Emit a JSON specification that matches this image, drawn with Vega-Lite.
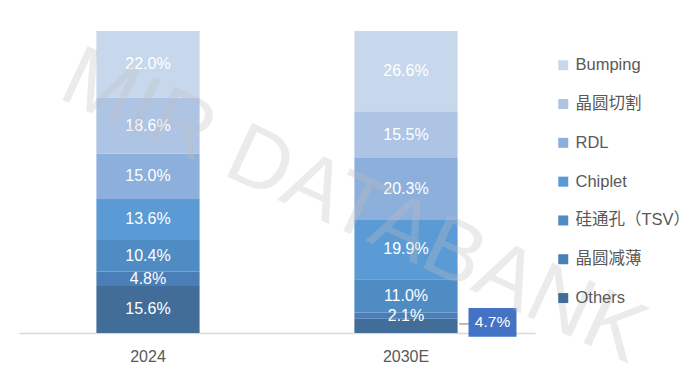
{
  "$schema": "https://vega.github.io/schema/vega-lite/v6.json",
  "width": 516,
  "height": 302,
  "autosize": {"type": "none"},
  "padding": {"left": 19, "top": 31, "right": 160, "bottom": 48},
  "background": "white",
  "config": {
    "view": {"stroke": null},
    "font": "Liberation Sans, Noto Sans CJK SC"
  },
  "data": {
    "values": [
      {"year": "2024", "cat": "Bumping", "value": 22.0},
      {"year": "2024", "cat": "晶圆切割", "value": 18.6},
      {"year": "2024", "cat": "RDL", "value": 15.0},
      {"year": "2024", "cat": "Chiplet", "value": 13.6},
      {"year": "2024", "cat": "硅通孔（TSV）", "value": 10.4},
      {"year": "2024", "cat": "晶圆减薄", "value": 4.8},
      {"year": "2024", "cat": "Others", "value": 15.6},
      {"year": "2030E", "cat": "Bumping", "value": 26.6},
      {"year": "2030E", "cat": "晶圆切割", "value": 15.5},
      {"year": "2030E", "cat": "RDL", "value": 20.3},
      {"year": "2030E", "cat": "Chiplet", "value": 19.9},
      {"year": "2030E", "cat": "硅通孔（TSV）", "value": 11.0},
      {"year": "2030E", "cat": "晶圆减薄", "value": 2.1},
      {"year": "2030E", "cat": "Others", "value": 4.7}
    ]
  },
  "transform": [
    {"calculate": "indexof(['Others','晶圆减薄','硅通孔（TSV）','Chiplet','RDL','晶圆切割','Bumping'], datum.cat)", "as": "idx"},
    {"stack": "value", "groupby": ["year"], "sort": [{"field": "idx", "order": "ascending"}], "offset": "normalize", "as": ["y0", "y1"]},
    {"calculate": "(datum.y0 + datum.y1) / 2", "as": "mid"},
    {"calculate": "format(datum.value, '.1f') + '%'", "as": "label"}
  ],
  "layer": [
    {
      "mark": {"type": "bar"},
      "encoding": {
        "x": {
          "field": "year", "type": "nominal", "sort": ["2024", "2030E"],
          "scale": {"paddingInner": 0.6, "paddingOuter": 0.3},
          "axis": {
            "title": null, "ticks": false, "labelAngle": 0, "labelPadding": 15,
            "labelFontSize": 16, "labelColor": "#595959",
            "domainColor": "#D9D9D9", "domainWidth": 1.5, "grid": false
          }
        },
        "y": {"field": "y1", "type": "quantitative", "scale": {"domain": [0, 1], "nice": false}, "axis": null},
        "y2": {"field": "y0"},
        "color": {
          "field": "cat", "type": "nominal",
          "scale": {
            "domain": ["Bumping", "晶圆切割", "RDL", "Chiplet", "硅通孔（TSV）", "晶圆减薄", "Others"],
            "range": ["#C8D8EC", "#AEC4E4", "#8DAFDB", "#5B9BD5", "#508CC4", "#4A7EB6", "#426D99"]
          },
          "legend": {
            "title": null, "orient": "none", "legendX": 536, "legendY": 26,
            "symbolType": "square", "symbolSize": 100, "symbolStrokeWidth": 0,
            "labelFontSize": 16.5, "labelColor": "#595959", "labelOffset": 4,
            "rowPadding": 21.8, "padding": 0, "labelLimit": 200
          }
        },
        "order": {"field": "idx", "type": "quantitative"}
      }
    },
    {
      "transform": [{"filter": "!(datum.year == '2030E' && datum.cat == 'Others')"}],
      "mark": {"type": "text", "color": "white", "fontSize": 16, "baseline": "middle", "align": "center"},
      "encoding": {
        "x": {"field": "year", "type": "nominal", "sort": ["2024", "2030E"]},
        "y": {"field": "mid", "type": "quantitative"},
        "text": {"field": "label"}
      }
    },
    {
      "transform": [{"filter": "datum.year == '2030E' && datum.cat == 'Others'"}],
      "mark": {"type": "rule", "color": "#A6A6A6", "strokeWidth": 1.5, "xOffset": 53, "x2Offset": 63, "yOffset": -2},
      "encoding": {
        "x": {"field": "year", "type": "nominal", "sort": ["2024", "2030E"]},
        "x2": {"datum": "2030E"},
        "y": {"field": "mid", "type": "quantitative"}
      }
    },
    {
      "transform": [{"filter": "datum.year == '2030E' && datum.cat == 'Others'"}],
      "mark": {"type": "point", "shape": "M-1,-0.6H1V0.6H-1Z", "size": 2304, "filled": true, "color": "#4472C4", "opacity": 1, "xOffset": 86.5, "yOffset": -3.5},
      "encoding": {
        "x": {"field": "year", "type": "nominal", "sort": ["2024", "2030E"]},
        "y": {"field": "mid", "type": "quantitative"}
      }
    },
    {
      "transform": [{"filter": "datum.year == '2030E' && datum.cat == 'Others'"}],
      "mark": {"type": "text", "color": "white", "fontSize": 15.5, "baseline": "middle", "align": "center", "dx": 86.5, "dy": -3.5},
      "encoding": {
        "x": {"field": "year", "type": "nominal", "sort": ["2024", "2030E"]},
        "y": {"field": "mid", "type": "quantitative"},
        "text": {"value": "4.7%"}
      }
    },
    {
      "data": {"values": [{"t": "MIR DATABANK"}]},
      "mark": {"type": "text", "fontSize": 86, "angle": 25, "align": "center", "baseline": "alphabetic", "color": "#BFBFBF", "opacity": 0.3, "dx": 80, "dy": 16},
      "encoding": {"text": {"field": "t"}}
    }
  ]
}
